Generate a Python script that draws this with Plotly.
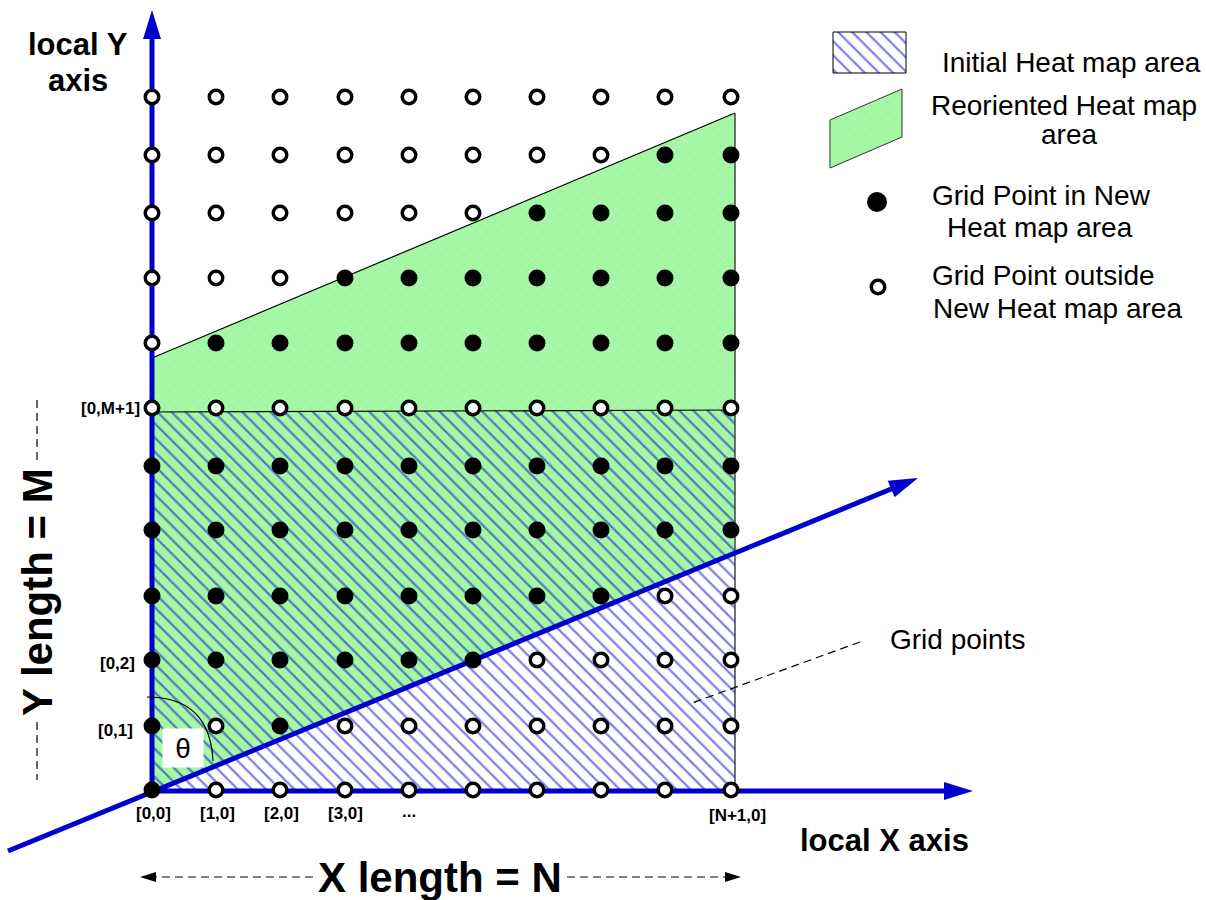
import math
import plotly.graph_objects as go

# Grid of sample points (diagram pixels, y grows downward)
col_x = [152, 216, 280, 345, 409, 473, 537, 601, 665, 731]
row_y = [790, 726, 660, 596, 530, 466, 408, 343, 278, 213, 155, 97]
# 1 = grid point inside the new heat map area, bottom row first
inside_rows = [
    "1000000000",
    "1010000000",
    "1111110000",
    "1111111100",
    "1111111111",
    "1111111111",
    "0000000000",
    "0111111111",
    "0001111111",
    "0000001111",
    "0000000011",
    "0000000000",
]

# Areas
initial_x = [152, 735, 735, 152]
initial_y = [412, 410, 790, 790]
reoriented_x = [152, 735, 735, 152]
reoriented_y = [358, 113, 553, 791]

# Axes: (tail, tip)
axis_lines = [
    ((152, 791), (152, 10)),
    ((152, 791), (973, 791)),
    ((8, 851), (918, 478)),
]

# Tick labels along the axes
x_tick_text = ["[0,0]", "[1,0]", "[2,0]", "[3,0]", "...", "[N+1,0]"]
x_tick_x = [153, 217, 281, 345, 409, 737]
x_tick_y = [813, 813, 813, 813, 811, 815]
y_tick_text = ["[0,1]", "[0,2]", "[0,M+1]"]
y_tick_x = [135, 137, 142]
y_tick_y = [730, 663, 408]

# Legend
legend_hatch_x = [833, 906, 906, 833]
legend_hatch_y = [32, 32, 73, 73]
legend_green_x = [830, 902, 902, 830]
legend_green_y = [120, 89, 137, 168]
legend_lines = [
    ("Initial Heat map area", 1071, 62),
    ("Reoriented Heat map", 1064, 105),
    ("area", 1069, 134),
    ("Grid Point in New", 1041, 195),
    ("Heat map area", 1040, 227),
    ("Grid Point outside", 1043, 275),
    ("New Heat map area", 1057, 308),
]

BLUE = "#0000cc"
GREEN = "#a3f7a3"
FONT = "Arial, Liberation Sans, sans-serif"

fig = go.Figure()


def poly(xs, ys, **kw):
    fig.add_trace(go.Scatter(x=xs + xs[:1], y=ys + ys[:1], mode="lines",
                             fill="toself", hoverinfo="skip", **kw))


def line(xs, ys, color="black", width=1, dash=None):
    fig.add_trace(go.Scatter(x=xs, y=ys, mode="lines", hoverinfo="skip",
                             line=dict(color=color, width=width, dash=dash)))


def arrow(tail, tip, color, width, head_len, head_w, dash=None):
    dx, dy = tip[0] - tail[0], tip[1] - tail[1]
    d = math.hypot(dx, dy)
    ux, uy = dx / d, dy / d
    bx, by = tip[0] - ux * head_len, tip[1] - uy * head_len
    line([tail[0], bx + ux * 2], [tail[1], by + uy * 2], color, width, dash)
    px, py = -uy * head_w / 2, ux * head_w / 2
    poly([tip[0], bx + px, bx - px], [tip[1], by + py, by - py],
         line=dict(color=color, width=0), fillcolor=color)


green_pattern = dict(shape="x", fgcolor="#cdfccd", bgcolor=GREEN, size=8, solidity=0.12)
hatch_pattern = dict(shape="\\", fgcolor=BLUE, bgcolor="rgba(0,0,0,0)", size=10, solidity=0.22)

# reoriented (green) area, then the initial hatched area over it
poly(reoriented_x, reoriented_y, line=dict(width=0), fillcolor=GREEN, fillpattern=green_pattern)
poly(initial_x, initial_y, line=dict(width=0), fillcolor="rgba(0,0,0,0)", fillpattern=hatch_pattern)
line(reoriented_x[:2], reoriented_y[:2], "black", 1.2)
line(initial_x[:2], initial_y[:2], "black", 1.2)
line([reoriented_x[1], initial_x[2]], [reoriented_y[1], initial_y[2]], "#444", 1.5)

# legend swatches
poly(legend_hatch_x, legend_hatch_y, line=dict(color="black", width=1),
     fillcolor="white", fillpattern=dict(hatch_pattern, bgcolor="white"))
poly(legend_green_x, legend_green_y, line=dict(color="#333", width=1),
     fillcolor=GREEN, fillpattern=green_pattern)

# blue axes
for tail, tip in axis_lines:
    arrow(tail, tip, BLUE, 5, 29, 18)

# dimension arrows
arrow((313, 877), (140, 877), "black", 1.2, 16, 10, dash="8px,5px")
arrow((567, 877), (741, 877), "black", 1.2, 16, 10, dash="8px,5px")
line([37, 37], [400, 462], "black", 1.2, "8px,5px")
line([37, 37], [722, 780], "black", 1.2, "8px,5px")
line([860, 692], [642, 703], "black", 1.2, "8px,5px")

# grid points
in_x, in_y, out_x, out_y = [], [], [], []
for j, row in enumerate(inside_rows):
    for i, flag in enumerate(row):
        if flag == "1":
            in_x.append(col_x[i]); in_y.append(row_y[j])
        else:
            out_x.append(col_x[i]); out_y.append(row_y[j])
fig.add_trace(go.Scatter(x=out_x + [878], y=out_y + [287], mode="markers", hoverinfo="skip",
                         marker=dict(size=13.5, color="white", line=dict(color="black", width=3.5))))
fig.add_trace(go.Scatter(x=in_x, y=in_y, mode="markers", hoverinfo="skip",
                         marker=dict(size=17, color="black", line=dict(width=0))))
fig.add_trace(go.Scatter(x=[877], y=[202], mode="markers", hoverinfo="skip",
                         marker=dict(size=20, color="black", line=dict(width=0))))

# theta arc
fig.add_shape(type="path", path="M147,697 Q210,697 213,761", xref="x", yref="y",
              line=dict(color="black", width=1.2))


def text(t, x, y, size, bold=False, **kw):
    fig.add_annotation(x=x, y=y, xref="x", yref="y", text=t, showarrow=False,
                       font=dict(family=FONT, size=size, color="black",
                                 weight="bold" if bold else "normal"), **kw)


text("local Y", 78, 44, 31, True)
text("axis", 78, 80, 31, True)
text("local X axis", 884, 840, 31, True)
text("X length = N", 440, 877, 42, True)
text("Y length = M", 37, 592, 42, True, textangle=-90)
text("Grid points", 957, 639, 28)
text("θ", 183, 748, 28, bgcolor="white", width=38, height=36)
for t, x, y in zip(x_tick_text, x_tick_x, x_tick_y):
    text(t, x, y, 17, True)
for t, x, y in zip(y_tick_text, y_tick_x, y_tick_y):
    text(t, x, y, 17, True, xanchor="right")
for t, x, y in legend_lines:
    text(t, x, y, 28)

fig.update_layout(
    width=1206, height=900,
    margin=dict(l=0, r=0, t=0, b=0),
    paper_bgcolor="white", plot_bgcolor="white",
    showlegend=False,
    xaxis=dict(range=[0, 1206], visible=False, fixedrange=True),
    yaxis=dict(range=[900, 0], visible=False, fixedrange=True),
)

# drop the browser's default page margin so the figure sits at the top-left corner
fig.write_html("out.html", config={"displayModeBar": False},
               post_script="document.body.style.margin='0';")
